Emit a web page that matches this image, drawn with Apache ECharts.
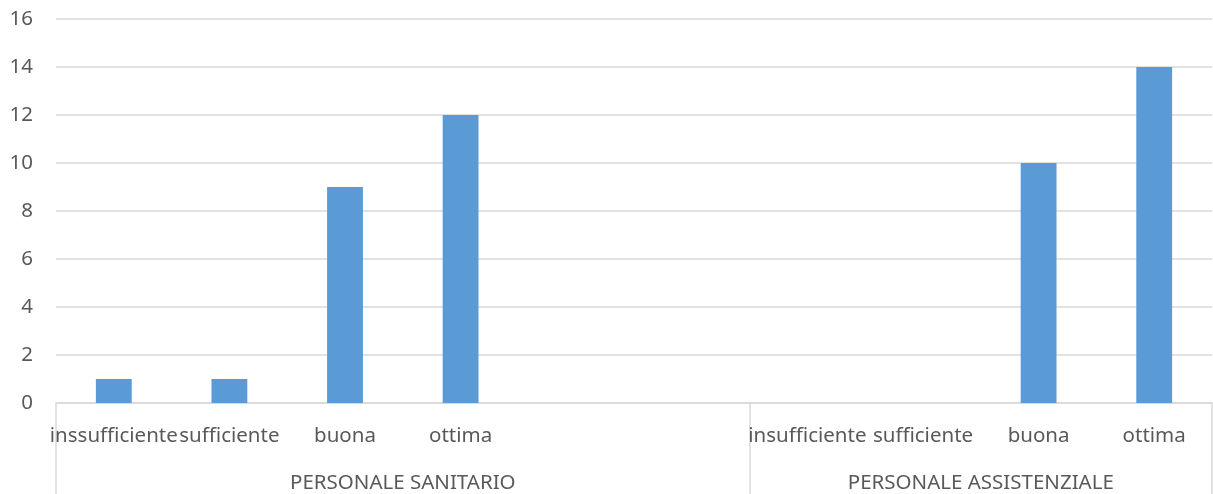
<!DOCTYPE html>
<html>
<head>
<meta charset="utf-8">
<script src="https://cdn.jsdelivr.net/npm/echarts@6/dist/echarts.min.js"></script>
<style>
  html, body { margin: 0; padding: 0; background: #ffffff; }
  #chart { width: 1213px; height: 494px; }
</style>
</head>
<body>
<div id="chart"></div>
<script>
// Rating categories per slot (blank slots keep the groups apart)
const categories = ['inssufficiente', 'sufficiente', 'buona', 'ottima', '', '',
                    'insufficiente', 'sufficiente', 'buona', 'ottima'];
// Number of answers per slot
const values = [1, 1, 9, 12, null, null, null, null, 10, 14];
// Outer grouping of the category axis
const groupNames = ['PERSONALE SANITARIO', 'PERSONALE ASSISTENZIALE'];
const groupSizes = [6, 4];
// Value axis ticks
const yTicks = [0, 2, 4, 6, 8, 10, 12, 14, 16];

const FONT = 'Noto Sans';
const SIZE = 20.5;
const TEXT = '#595959';
const LINE = '#d9d9d9';

// Group boundaries and centres, in slot units
const groupEdges = [0];
groupSizes.forEach(s => groupEdges.push(groupEdges[groupEdges.length - 1] + s));
const groupCenters = groupSizes.map((s, i) => groupEdges[i] + s / 2);

const chart = echarts.init(document.getElementById('chart'), null, { renderer: 'canvas' });
chart.setOption({
  animation: false,
  backgroundColor: '#ffffff',
  grid: { left: 56, right: 1, top: 19, bottom: 91, containLabel: false },
  xAxis: [
    {
      type: 'category',
      data: categories,
      boundaryGap: true,
      axisLine: { show: true, lineStyle: { color: LINE, width: 1.5 } },
      axisTick: { show: false },
      axisLabel: {
        interval: 0, hideOverlap: false, margin: 23,
        color: TEXT, fontFamily: FONT, fontSize: SIZE
      },
      splitLine: { show: false }
    },
    {
      type: 'value',
      position: 'bottom',
      min: 0,
      max: groupEdges[groupEdges.length - 1],
      axisLine: { show: false },
      splitLine: { show: false },
      axisTick: {
        show: true, length: 91, customValues: groupEdges,
        lineStyle: { color: LINE, width: 1.5 }
      },
      axisLabel: {
        customValues: groupCenters,
        formatter: v => groupNames[groupCenters.indexOf(v)] || '',
        margin: 70, color: TEXT, fontFamily: FONT, fontSize: SIZE
      }
    }
  ],
  yAxis: {
    type: 'value',
    min: yTicks[0],
    max: yTicks[yTicks.length - 1],
    interval: 2,
    axisLine: { show: false },
    axisTick: { show: false },
    axisLabel: { margin: 23, color: TEXT, fontFamily: FONT, fontSize: SIZE },
    splitLine: { show: true, lineStyle: { color: LINE, width: 1.5 } }
  },
  series: [{
    type: 'bar',
    data: values,
    xAxisIndex: 0,
    barWidth: '31%',
    itemStyle: { color: '#5b9bd5' }
  }]
});
</script>
</body>
</html>
